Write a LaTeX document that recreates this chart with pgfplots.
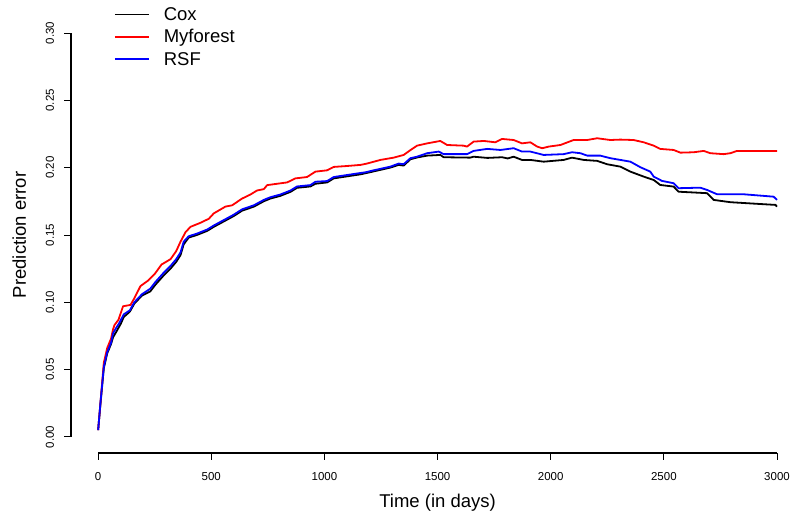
\documentclass[border=0pt]{standalone}
\usepackage{fontspec}
\setmainfont{Liberation Sans}
\usepackage{pgfplots}
\pgfplotsset{compat=1.18}

\newcommand{\labfont}{\fontsize{18.5}{22}\selectfont}
\newcommand{\tickfont}{\fontsize{11.5}{13}\selectfont}

\begin{document}
\begin{tikzpicture}
\useasboundingbox (0,0) rectangle (791pt,-513pt);
\begin{axis}[
    at={(71pt,-453pt)}, anchor=south west,
    scale only axis,
    width=719.6pt, height=453pt,
    xmin=-120, xmax=3060,
    ymin=-0.012, ymax=0.3245,
    clip=false,
    axis lines=none,
    legend cell align=left,
    legend image code/.code={\draw[#1] (0pt,1.7pt) -- (34pt,1.7pt);},
    legend style={at={(axis description cs:0.0598,0.983)}, anchor=north west,
        draw=none, fill=none, inner sep=0pt, outer sep=0pt,
        column sep=14pt, row sep=5.2pt, font=\labfont,
        nodes={inner sep=0pt, text height=13pt, text depth=4pt}},
    every axis plot/.append style={line width=1.8pt, line join=round},
]
\addplot[black] coordinates {
(0,0.005) (10,0.024) (25,0.051) (40,0.062) (57,0.069) (66,0.074) (80,0.078)
(100,0.084) (113,0.089) (140,0.093) (160,0.099) (194,0.105) (230,0.108)
(253,0.113) (290,0.120) (320,0.125) (345,0.130) (364,0.135) (378,0.143)
(400,0.148) (437,0.150) (482,0.153) (511,0.156) (555,0.160) (599,0.164)
(636,0.168) (688,0.171) (732,0.175) (761,0.177) (805,0.179) (850,0.182)
(879,0.185) (938,0.186) (960,0.188) (1012,0.189) (1041,0.192) (1100,0.1935)
(1159,0.195) (1181,0.1958) (1218,0.1972) (1291,0.200) (1328,0.202) (1350,0.2015)
(1380,0.2062) (1409,0.2075) (1454,0.2089) (1512,0.2094) (1527,0.2077) (1644,0.2074)
(1659,0.2081) (1720,0.2072) (1785,0.2077) (1810,0.2068) (1836,0.2081) (1873,0.2057)
(1910,0.2057) (1969,0.2044) (2057,0.2057) (2094,0.2074) (2146,0.2057) (2205,0.2050)
(2249,0.2025) (2308,0.2007) (2352,0.1970) (2411,0.1933) (2455,0.1908) (2484,0.1871)
(2543,0.1859) (2565,0.1821) (2691,0.1810) (2720,0.1760) (2794,0.1743) (2941,0.1728)
(2993,0.1723) (3000,0.1710)
};
\addlegendentry{Cox}

\addplot[red] coordinates {
(0,0.005) (10,0.025) (25,0.055) (40,0.066) (57,0.073) (66,0.080) (72,0.083)
(90,0.087) (110,0.097) (143,0.098) (160,0.103) (187,0.112) (220,0.116)
(250,0.121) (280,0.128) (320,0.132) (345,0.138) (364,0.145) (386,0.152)
(408,0.156) (452,0.159) (489,0.162) (511,0.166) (562,0.171) (592,0.172)
(636,0.177) (673,0.180) (702,0.183) (732,0.184) (747,0.187) (791,0.188)
(835,0.189) (872,0.192) (923,0.193) (960,0.197) (1012,0.198) (1041,0.2005)
(1100,0.2012) (1159,0.202) (1188,0.203) (1247,0.2057) (1306,0.2074) (1350,0.2094)
(1380,0.213) (1409,0.2163) (1454,0.218) (1512,0.2198) (1542,0.2168) (1615,0.2163)
(1630,0.2156) (1659,0.2193) (1704,0.2198) (1755,0.2188) (1785,0.2213) (1836,0.2205)
(1873,0.218) (1910,0.2188) (1940,0.2156) (1962,0.2144) (1991,0.2156) (2043,0.2168)
(2101,0.2205) (2161,0.2205) (2205,0.2218) (2263,0.2205) (2308,0.2208) (2366,0.2205)
(2411,0.2188) (2455,0.2163) (2484,0.2139) (2543,0.2131) (2573,0.2111) (2632,0.2114)
(2676,0.2124) (2705,0.2107) (2764,0.2100) (2794,0.2107) (2823,0.2124) (3000,0.2124)
};
\addlegendentry{Myforest}

\addplot[blue] coordinates {
(0,0.005) (10,0.025) (25,0.052) (40,0.063) (57,0.070) (66,0.077) (80,0.081)
(95,0.085) (113,0.091) (140,0.094) (160,0.100) (194,0.106) (230,0.110)
(253,0.115) (290,0.122) (320,0.127) (345,0.132) (364,0.137) (378,0.145)
(400,0.149) (437,0.151) (482,0.154) (511,0.157) (555,0.161) (599,0.165)
(636,0.169) (688,0.172) (732,0.176) (761,0.178) (805,0.180) (850,0.183)
(879,0.186) (938,0.187) (960,0.1895) (1012,0.190) (1041,0.193) (1100,0.1945)
(1159,0.196) (1181,0.1965) (1218,0.198) (1291,0.2007) (1328,0.203) (1350,0.2025)
(1380,0.207) (1409,0.2081) (1454,0.2107) (1505,0.2119) (1527,0.210) (1630,0.210)
(1659,0.2124) (1719,0.2139) (1778,0.2131) (1836,0.2144) (1873,0.2119) (1910,0.2119)
(1969,0.2094) (2057,0.210) (2094,0.2114) (2131,0.2107) (2161,0.2089) (2219,0.2089)
(2263,0.207) (2308,0.2057) (2352,0.2044) (2396,0.2003) (2440,0.197) (2455,0.1933)
(2492,0.1901) (2543,0.1884) (2565,0.1847) (2661,0.1851) (2691,0.1834) (2735,0.1802)
(2852,0.1802) (2985,0.1784) (3000,0.1760)
};
\addlegendentry{RSF}

% R style axes: lines span the tick range only, ticks point outwards
\draw[line width=1.2pt] (axis cs:0,-0.012) -- (axis cs:3000,-0.012);
\draw[line width=1.2pt] (axis cs:-120,0) -- (axis cs:-120,0.30);
\pgfplotsinvokeforeach{0,500,1000,1500,2000,2500,3000}{
  \draw[line width=0.8pt] (axis cs:#1,-0.012) -- ([yshift=-7pt]axis cs:#1,-0.012);
  \node[anchor=base, inner sep=0pt, font=\tickfont] at ([yshift=-27pt]axis cs:#1,-0.012) {#1};
}
\pgfplotsinvokeforeach{0.00,0.05,0.10,0.15,0.20,0.25,0.30}{
  \draw[line width=0.8pt] (axis cs:-120,#1) -- ([xshift=-7pt]axis cs:-120,#1);
  \node[rotate=90, anchor=base, inner sep=0pt, font=\tickfont] at ([xshift=-17pt]axis cs:-120,#1) {#1};
}
\node[anchor=base, font=\labfont] at ([yshift=-54pt]axis cs:1500,-0.012) {Time (in days)};
\node[rotate=90, anchor=base, font=\labfont] at ([xshift=-45pt]axis cs:-120,0.15) {Prediction error};
\end{axis}
\end{tikzpicture}
\end{document}
